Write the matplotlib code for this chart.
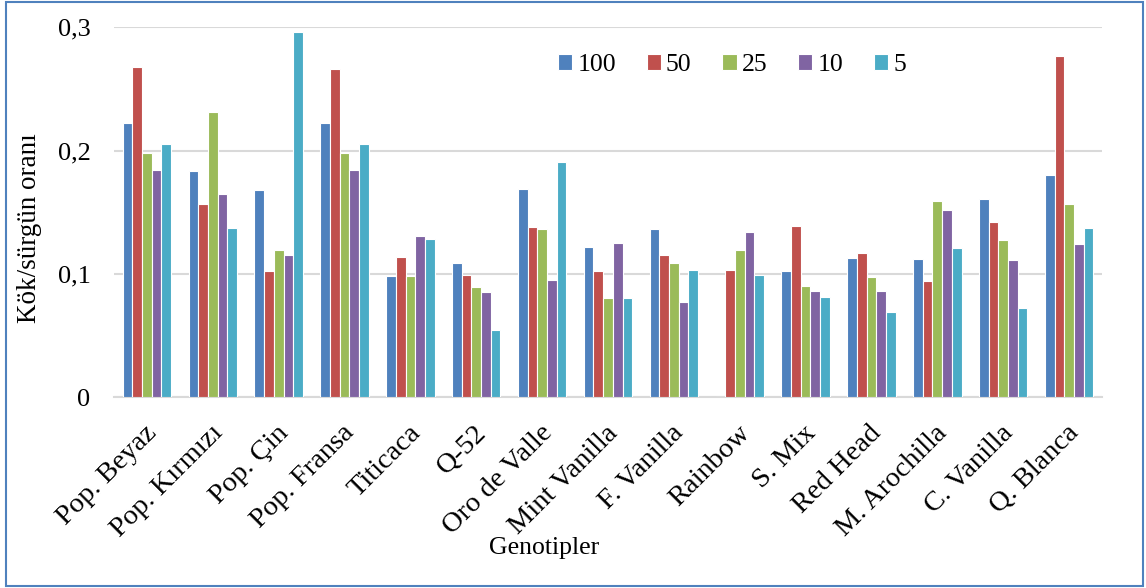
import matplotlib
matplotlib.use("Agg")
import matplotlib.pyplot as plt
from matplotlib.patches import Rectangle
import numpy as np

plt.rcParams['font.family'] = ['Liberation Serif', 'DejaVu Serif']

genotypes = ["Pop. Beyaz", "Pop. Kırmızı", "Pop. Çin", "Pop. Fransa", "Titicaca",
             "Q-52", "Oro de Valle", "Mint Vanilla", "F. Vanilla", "Rainbow",
             "S. Mix", "Red Head", "M. Arochilla", "C. Vanilla", "Q. Blanca"]
doses = ["100", "50", "25", "10", "5"]

v100 = [0.222, 0.183, 0.168, 0.222, 0.098, 0.109, 0.169, 0.122, 0.136, 0.0,
        0.102, 0.113, 0.112, 0.161, 0.180]
v50 = [0.268, 0.157, 0.102, 0.266, 0.114, 0.099, 0.138, 0.102, 0.115, 0.103,
       0.139, 0.117, 0.094, 0.142, 0.277]
v25 = [0.198, 0.231, 0.119, 0.198, 0.098, 0.089, 0.136, 0.080, 0.109, 0.119,
       0.090, 0.097, 0.159, 0.127, 0.157]
v10 = [0.184, 0.165, 0.115, 0.184, 0.131, 0.085, 0.095, 0.125, 0.077, 0.134,
       0.086, 0.086, 0.152, 0.111, 0.124]
v5 = [0.205, 0.137, 0.296, 0.205, 0.128, 0.054, 0.191, 0.080, 0.103, 0.099,
      0.081, 0.069, 0.121, 0.072, 0.137]

series = [v100, v50, v25, v10, v5]
colors = ['#4F81BD', '#C0504D', '#9BBB59', '#8064A2', '#4BACC6']

W, H = 1146, 588
fig = plt.figure(figsize=(W / 100, H / 100), dpi=100)
ax = fig.add_axes([114 / W, 1 - 397 / H, (1102 - 114) / W, (397 - 27.3) / H])

x = np.arange(len(genotypes))
bw = 0.147
for k, vals in enumerate(series):
    ax.bar(x + (k - 2) * bw, vals, width=bw, color=colors[k],
           edgecolor='white', linewidth=0.8, label=doses[k], zorder=3)

ax.set_xlim(-0.5, len(genotypes) - 0.5)
ax.set_ylim(0, 0.3)
ax.set_yticks([0, 0.1, 0.2, 0.3])
ax.set_yticklabels(["0", "0,1", "0,2", "0,3"], fontsize=19)
ax.yaxis.grid(True, color='#D9D9D9', linewidth=1.5, zorder=0)
ax.tick_params(axis='y', length=0, pad=17)
ax.tick_params(axis='x', length=0, pad=17)
for s in ['top', 'right', 'left']:
    ax.spines[s].set_visible(False)
ax.spines['bottom'].set_color('#D9D9D9')
ax.spines['bottom'].set_linewidth(1.5)

# labels hang from just left of each group centre
ax.set_xticks(x - 0.04)
ax.set_xticklabels(genotypes, rotation=45, ha='right', rotation_mode='anchor',
                   fontsize=20.5)

fig.text(544 / W, 1 - 548 / H, "Genotipler", ha='center', va='center', fontsize=18.5)
fig.text(30 / W, 1 - 228 / H, "Kök/sürgün oranı", rotation=90, ha='center',
         va='center', fontsize=19.5)

ax.legend(loc='center', bbox_to_anchor=(732 / W, 1 - 65 / H),
          bbox_transform=fig.transFigure, ncol=5, frameon=False, fontsize=18.5,
          handlelength=0.55, handleheight=0.55, handletextpad=0.2,
          columnspacing=1.2)

fig.patches.append(Rectangle((6 / W, 2 / H), (1143 - 6) / W, (586 - 2) / H,
                             transform=fig.transFigure, fill=False,
                             edgecolor='#4F81BD', linewidth=1.5))

fig.savefig("out.png", dpi=100)
